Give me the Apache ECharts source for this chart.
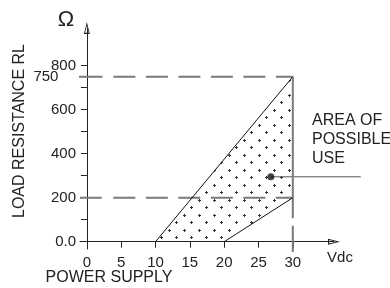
<!DOCTYPE html>
<html>
<head>
<meta charset="utf-8">
<script src="https://cdn.jsdelivr.net/npm/echarts@6/dist/echarts.min.js"></script>
<style>
  html, body { margin: 0; padding: 0; background: #fff; }
  #chart { width: 390px; height: 288px; }
</style>
</head>
<body>
<div id="chart"></div>
<script>
  // axis ticks and labels
  var xTicks = [0, 5, 10, 15, 20, 25, 30];
  var yTicks = [0, 100, 200, 300, 400, 500, 600, 700, 800];
  var yLabels = [0, 200, 400, 600, 800];

  // area of possible use (polygon vertices)
  var areaX = [10, 30, 30, 20];
  var areaY = [0, 750, 200, 0];

  // boundary lines
  var upperEdge = [[10, 0], [30, 750]];
  var lowerEdge = [[20, 0], [30, 200]];
  var rightEdge = [[30, 750], [30, 200]];
  var rightEdgeLow = [[30, 200], [30, -47]];
  var limit750 = [[-4, 750], [30, 750]];
  var limit200 = [[-1, 200], [30, 200]];
  var limit750Label = '750';

  // annotation point + leader line
  var usePoint = [26.8, 295];
  var leaderEndX = 39.9;

  var font = 'Liberation Sans, Arial, sans-serif';
  var ink = '#222';
  var gray = '#7a7a7a';

  // hollow arrow head, pointing up
  var arrow = 'path://M5,0L10,20L0,20Z M5,6L2,18L8,18Z';

  // "+" dot fill pattern
  var pat = document.createElement('canvas');
  pat.width = 15;
  pat.height = 15;
  var ctx = pat.getContext('2d');
  ctx.fillStyle = '#333';
  [[4, 5], [11, 12]].forEach(function(p) {
    ctx.fillRect(p[0] - 1, p[1], 3, 1);
    ctx.fillRect(p[0], p[1] - 1, 1, 3);
  });

  function edge(data, color, width, dash) {
    return {
      type: 'line',
      data: data,
      clip: false,
      symbol: 'none',
      silent: true,
      z: 3,
      lineStyle: { color: color, width: width, type: dash || 'solid' }
    };
  }

  var option = {
    animation: false,
    grid: { left: 80, top: 28, width: 254, height: 221 },
    xAxis: {
      type: 'value',
      min: -1,
      max: 36,
      splitLine: { show: false },
      axisLine: {
        onZero: true,
        symbol: ['none', arrow],
        symbolSize: [6, 17],
        lineStyle: { color: ink, width: 1 }
      },
      axisTick: { show: true, length: 6, customValues: xTicks, lineStyle: { color: ink } },
      axisLabel: {
        customValues: xTicks,
        margin: 6,
        fontSize: 15,
        fontFamily: font,
        color: ink
      }
    },
    yAxis: {
      type: 'value',
      min: -33,
      max: 971,
      splitLine: { show: false },
      axisLine: {
        onZero: true,
        symbol: ['none', arrow],
        symbolSize: [6, 15],
        lineStyle: { color: ink, width: 1 }
      },
      axisTick: { show: true, length: 6, customValues: yTicks, lineStyle: { color: ink } },
      axisLabel: {
        customValues: yLabels,
        margin: 4,
        showMinLabel: true,
        showMaxLabel: true,
        fontSize: 15,
        fontFamily: font,
        color: ink,
        formatter: function(v) {
          return v === 0 ? '0.0' : String(v);
        }
      }
    },
    graphic: [
      { type: 'text', x: 66, y: 20, style: { text: 'Ω', font: '22px ' + font, fill: ink, align: 'center', verticalAlign: 'middle' } },
      { type: 'text', x: 20, y: 131, rotation: Math.PI / 2, style: { text: 'LOAD RESISTANCE RL', font: '16px ' + font, fill: ink, align: 'center', verticalAlign: 'middle' } },
      { type: 'text', x: 109, y: 278, style: { text: 'POWER SUPPLY', font: '16px ' + font, fill: ink, align: 'center', verticalAlign: 'middle' } },
      { type: 'text', x: 340, y: 258, style: { text: 'Vdc', font: '15px ' + font, fill: ink, align: 'center', verticalAlign: 'middle' } },
      { type: 'text', x: 312, y: 111, style: { text: 'AREA OF\nPOSSIBLE\nUSE', font: '16px ' + font, lineHeight: 19, fill: ink, align: 'left', verticalAlign: 'top' } }
    ],
    series: [
      {
        type: 'custom',
        data: [0],
        z: 1,
        silent: true,
        clip: false,
        renderItem: function(params, api) {
          var pts = areaX.map(function(x, i) { return api.coord([x, areaY[i]]); });
          return {
            type: 'polygon',
            shape: { points: pts },
            style: { fill: { image: pat, repeat: 'repeat' }, stroke: null }
          };
        }
      },
      edge(limit750, gray, 2, [43, 11, 22, 10.5, 22, 10.5, 22, 10.5, 22, 10.5, 22, 10.5, 22, 10.5]),
      edge(limit200, gray, 2, [21.7, 11.6, 22, 10.5, 22, 10.5, 22, 10.5, 22, 10.5, 22, 10.5, 22, 10.5]),
      edge(rightEdge, gray, 2),
      edge(rightEdgeLow, gray, 2, [20.5, 7.5, 100]),
      edge(upperEdge, '#111', 1),
      edge(lowerEdge, '#111', 1),
      {
        // "750" label at the left end of the 750 limit line
        type: 'custom',
        data: [0],
        z: 3,
        silent: true,
        clip: false,
        renderItem: function(params, api) {
          var p = api.coord(limit750[0]);
          return {
            type: 'text',
            x: p[0] - 1,
            y: p[1],
            style: { text: limit750Label, font: '15px ' + font, fill: ink, align: 'right', verticalAlign: 'middle' }
          };
        }
      },
      {
        // leader line from the marked point out to the note
        type: 'custom',
        data: [0],
        z: 3,
        silent: true,
        clip: false,
        renderItem: function(params, api) {
          var a = api.coord(usePoint);
          var b = api.coord([leaderEndX, usePoint[1]]);
          return {
            type: 'line',
            shape: { x1: a[0], y1: a[1], x2: b[0], y2: b[1] },
            style: { stroke: '#555', lineWidth: 1 }
          };
        }
      },
      {
        type: 'scatter',
        data: [usePoint],
        symbolSize: 7,
        z: 4,
        silent: true,
        itemStyle: { color: '#111' }
      }
    ]
  };

  var chart = echarts.init(document.getElementById('chart'));
  chart.setOption(option);
</script>
</body>
</html>
